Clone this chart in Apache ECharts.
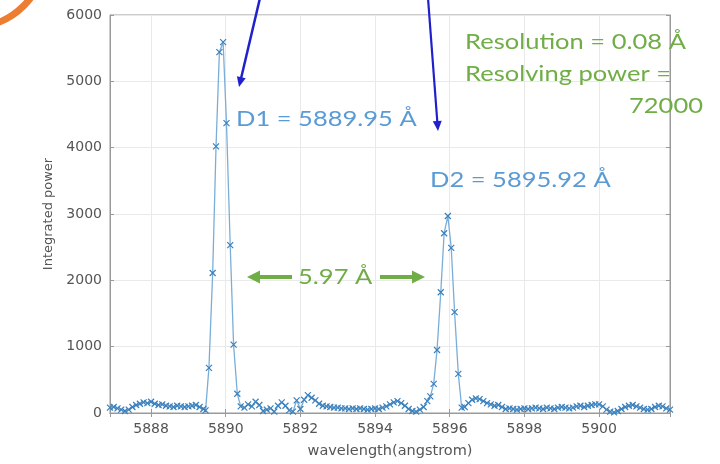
<!DOCTYPE html>
<html>
<head>
<meta charset="utf-8">
<script src="https://cdn.jsdelivr.net/npm/echarts@6/dist/echarts.min.js"></script>
<style>
  html, body { margin: 0; padding: 0; background: #fff; }
  #chart { width: 720px; height: 464px; }
</style>
</head>
<body>
<div id="chart"></div>
<script>
// wavelength (angstrom) of each sample
const wavelength = [
  5886.9, 5887.0, 5887.1, 5887.2, 5887.3, 5887.4, 5887.5, 5887.6, 5887.7, 5887.8,
  5887.9, 5888.0, 5888.1, 5888.2, 5888.3, 5888.4, 5888.5, 5888.6, 5888.7, 5888.8,
  5888.9, 5889.0, 5889.1, 5889.2, 5889.3, 5889.4, 5889.46,
  5889.55, 5889.65, 5889.74, 5889.83, 5889.93, 5890.02, 5890.12, 5890.21, 5890.31,
  5890.4, 5890.5, 5890.6, 5890.7, 5890.8, 5890.9, 5891.0, 5891.1, 5891.2, 5891.3,
  5891.4, 5891.5, 5891.6, 5891.7, 5891.8, 5891.9, 5892.0, 5892.1, 5892.2, 5892.3,
  5892.4, 5892.5, 5892.6, 5892.7, 5892.8, 5892.9, 5893.0, 5893.1, 5893.2, 5893.3,
  5893.4, 5893.5, 5893.6, 5893.7, 5893.8, 5893.9, 5894.0, 5894.1, 5894.2, 5894.3,
  5894.4, 5894.5, 5894.6, 5894.7, 5894.8, 5894.9, 5895.0, 5895.1, 5895.2, 5895.3,
  5895.4, 5895.48,
  5895.57, 5895.66, 5895.76, 5895.85, 5895.95, 5896.04, 5896.13, 5896.23,
  5896.32, 5896.4, 5896.5, 5896.6, 5896.7, 5896.8, 5896.9, 5897.0, 5897.1, 5897.2,
  5897.3, 5897.4, 5897.5, 5897.6, 5897.7, 5897.8, 5897.9, 5898.0, 5898.1, 5898.2,
  5898.3, 5898.4, 5898.5, 5898.6, 5898.7, 5898.8, 5898.9, 5899.0, 5899.1, 5899.2,
  5899.3, 5899.4, 5899.5, 5899.6, 5899.7, 5899.8, 5899.9, 5900.0, 5900.1, 5900.2,
  5900.3, 5900.4, 5900.5, 5900.6, 5900.7, 5900.8, 5900.9, 5901.0, 5901.1, 5901.2,
  5901.3, 5901.4, 5901.5, 5901.6, 5901.7, 5901.8, 5901.9
]

// integrated power at each wavelength
const power = [
  80, 90, 70, 50, 30, 50, 90, 120, 140, 160,
  150, 170, 140, 120, 130, 110, 100, 90, 110, 100,
  90, 100, 110, 120, 90, 60, 40,
  680, 2110, 4020, 5440, 5590, 4370, 2530, 1030, 290,
  100, 80, 130, 100, 170, 120, 30, 50, 70, 20,
  110, 160, 110, 40, 20, 190, 60, 200, 270, 230,
  190, 140, 110, 100, 90, 80, 80, 70, 70, 60,
  70, 60, 70, 60, 50, 60, 70, 60, 80, 100,
  130, 160, 180, 150, 110, 60, 30, 20, 50, 90,
  180, 250,
  440, 950, 1820, 2710, 2970, 2490, 1520, 590,
  80, 90, 150, 200, 220, 210, 180, 150, 130, 110,
  120, 90, 60, 70, 60, 50, 60, 70, 60, 70,
  80, 70, 60, 80, 70, 60, 80, 90, 80, 70,
  80, 100, 110, 90, 110, 120, 130, 130, 100, 50,
  20, 10, 30, 60, 90, 110, 120, 100, 80, 60,
  50, 60, 90, 110, 100, 70, 50
]

const xTicks = [5888, 5890, 5892, 5894, 5896, 5898, 5900]
const yTicks = [0, 1000, 2000, 3000, 4000, 5000, 6000]

const spectrum = wavelength.map((w, i) => [w, power[i]])

const chart = echarts.init(document.getElementById('chart'))

const axisGray = '#9a9a9a'
const labelFont = 'DejaVu Sans'
const noteFont = 'Lato'
const blueNote = '#5b9bd5'
const greenNote = '#70ad47'
const arrowBlue = '#2020cc'

// text helper for the slide annotations
function note(text, x, y, color, align) {
  return {
    type: 'text', x: x, y: y, scaleX: 1.16, z: 10,
    style: {
      text: text, fill: color, font: '22px ' + noteFont,
      align: align || 'left', verticalAlign: 'middle'
    }
  }
}

function arrowHead(tip, angle, len, half, color) {
  const c = Math.cos(angle), s = Math.sin(angle)
  const bx = tip[0] - c * len, by = tip[1] - s * len
  return {
    type: 'polygon', z: 10,
    shape: { points: [tip, [bx - s * half, by + c * half], [bx + s * half, by - c * half]] },
    style: { fill: color }
  }
}

function arrow(from, to, color, width, len, half) {
  const ang = Math.atan2(to[1] - from[1], to[0] - from[0])
  const end = [to[0] - Math.cos(ang) * len * 0.8, to[1] - Math.sin(ang) * len * 0.8]
  return [
    { type: 'line', z: 10, shape: { x1: from[0], y1: from[1], x2: end[0], y2: end[1] },
      style: { stroke: color, lineWidth: width } },
    arrowHead(to, ang, len, half, color)
  ]
}

const option = {
  backgroundColor: '#fff',
  animation: false,
  grid: {
    left: 110, right: 50, top: 15, bottom: 50,
    show: true, borderColor: axisGray, borderWidth: 1
  },
  xAxis: [
    {
      type: 'value', min: 5886.9, max: 5901.9, splitNumber: 7,
      name: 'wavelength(angstrom)', nameLocation: 'middle', nameGap: 31,
      nameTextStyle: { fontFamily: labelFont, fontSize: 14.5, color: '#555' },
      axisLine: { show: true, onZero: false, lineStyle: { color: axisGray } },
      axisTick: { show: true, inside: true, length: 4, lineStyle: { color: axisGray } },
      axisLabel: {
        showMinLabel: false, showMaxLabel: false, margin: 9,
        fontFamily: labelFont, fontSize: 14, color: '#555',
        formatter: v => xTicks.includes(v) ? String(v) : ''
      },
      splitLine: { show: true, lineStyle: { color: '#e9e9e9' } }
    },
    {
      type: 'value', position: 'top', min: 5886.9, max: 5901.9, splitNumber: 7,
      axisLine: { show: true, lineStyle: { color: axisGray } },
      axisTick: { show: true, inside: true, length: 4, lineStyle: { color: axisGray } },
      axisLabel: { show: false }, splitLine: { show: false }
    }
  ],
  yAxis: [
    {
      type: 'value', min: yTicks[0], max: yTicks[yTicks.length - 1], interval: 1000,
      name: 'Integrated power', nameLocation: 'middle', nameGap: 50,
      nameTextStyle: { fontFamily: labelFont, fontSize: 13, color: '#555' },
      axisLine: { show: true, lineStyle: { color: axisGray } },
      axisTick: { show: true, inside: true, length: 4, lineStyle: { color: axisGray } },
      axisLabel: {
        margin: 8, fontFamily: labelFont, fontSize: 14, color: '#555',
        formatter: v => String(v)
      },
      splitLine: { show: true, lineStyle: { color: '#e9e9e9' } }
    },
    {
      type: 'value', position: 'right', min: 0, max: 6000, interval: 1000,
      axisLine: { show: true, lineStyle: { color: axisGray } },
      axisTick: { show: true, inside: true, length: 4, lineStyle: { color: axisGray } },
      axisLabel: { show: false }, splitLine: { show: false }
    }
  ],
  series: [
    {
      type: 'line',
      data: spectrum,
      symbol: 'path://M0,0L10,10M10,0L0,10',
      symbolSize: 6,
      lineStyle: { color: '#7aaed8', width: 1.3 },
      itemStyle: { color: 'none', borderColor: '#3a80bd', borderWidth: 1.2 }
    }
  ],
  graphic: [
    {
      type: 'arc', z: 10,
      shape: { cx: -30, cy: -48, r: 76, startAngle: 0, endAngle: Math.PI },
      style: { stroke: '#ed7d31', lineWidth: 7, fill: null }
    },
    ...arrow([260, -2], [239, 87], arrowBlue, 2.5, 10, 4.5),
    ...arrow([428, -2], [438, 131], arrowBlue, 2.2, 10, 4.5),
    ...arrow([292, 277], [247, 277], greenNote, 4, 13, 6.5),
    ...arrow([380, 277], [425, 277], greenNote, 4, 13, 6.5),
    note('D1 = 5889.95 Å', 236, 119, blueNote),
    note('D2 = 5895.92 Å', 430, 180, blueNote),
    note('5.97 Å', 298, 277, greenNote),
    note('Resolution = 0.08 Å', 465, 42, greenNote),
    note('Resolving power =', 465, 74, greenNote),
    note('72000', 703, 106, greenNote, 'right')
  ]
}

chart.setOption(option)
</script>
</body>
</html>
